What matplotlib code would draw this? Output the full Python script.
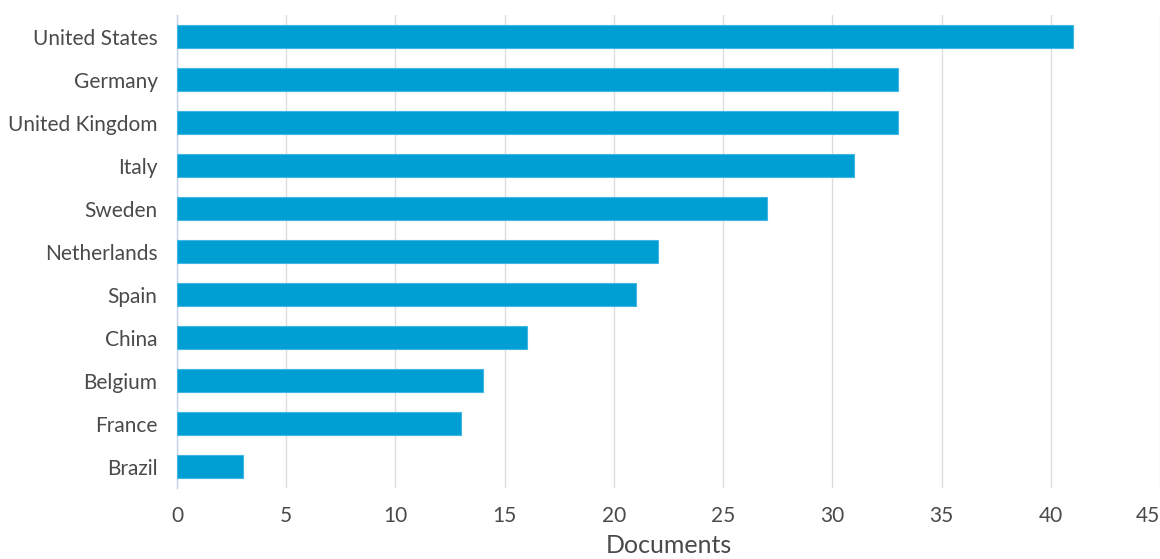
import matplotlib.pyplot as plt

plt.rcParams['font.family'] = ['Lato', 'DejaVu Sans']

countries = ['United States', 'Germany', 'United Kingdom', 'Italy', 'Sweden',
             'Netherlands', 'Spain', 'China', 'Belgium', 'France', 'Brazil']
documents = [41, 33, 33, 31, 27, 22, 21, 16, 14, 13, 3]
xticks = [0, 5, 10, 15, 20, 25, 30, 35, 40, 45]

fig = plt.figure(figsize=(11.6, 5.59), dpi=100)
ax = fig.add_axes([0.1526, 0.127, 0.8474, 0.846])

ypos = list(range(len(countries)))[::-1]
ax.barh(ypos, documents, height=0.52, color='#009fd3', edgecolor='#3fb6e3', linewidth=0.8, zorder=3)

ax.set_xlim(0, 45)
ax.set_ylim(-0.5, len(countries) - 0.5)
ax.set_xticks(xticks)
ax.set_yticks(ypos)
ax.set_yticklabels(countries)

ax.grid(axis='x', color='#dcdcdc', linewidth=1, zorder=0)
for s in ['top', 'right', 'bottom']:
    ax.spines[s].set_visible(False)
ax.spines['left'].set_color('#c5d3ec')
ax.spines['left'].set_linewidth(1)

ax.tick_params(axis='y', length=0, pad=14, labelsize=15, labelcolor='#4a4a4a')
ax.tick_params(axis='x', length=0, pad=13, labelsize=15, labelcolor='#4a4a4a')
ax.get_xticklabels()[-1].set_horizontalalignment('right')
ax.set_xlabel('Documents', fontsize=18, color='#4a4a4a', labelpad=6)

fig.savefig('out.png', dpi=100)
